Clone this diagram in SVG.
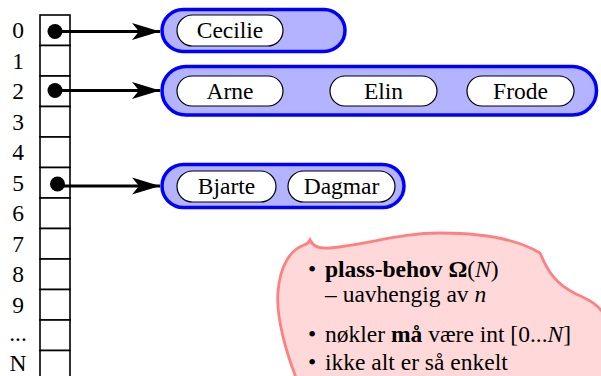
<svg xmlns="http://www.w3.org/2000/svg" width="601" height="376" viewBox="0 0 601 376">
  <style>
    text { font-family: "Liberation Serif", "Times New Roman", serif; font-size: 23.5px; fill: #000; }
    .idx { text-anchor: middle; }
    .cell { fill: #fff; stroke: #000; stroke-width: 1.6; }
    .bucket { fill: #b3b3ff; stroke: #0000ff; stroke-width: 3.5; }
    .key { fill: #fff; stroke: #000; stroke-width: 1.2; }
    .key-label { text-anchor: middle; }
    .link { stroke: #000; stroke-width: 2.8; fill: none; }
    .b { font-weight: bold; }
    .i { font-style: italic; }
  </style>
  <defs>
    <marker id="head" markerUnits="userSpaceOnUse" markerWidth="30" markerHeight="20" viewBox="-29 -10 30 20" refX="0" refY="0" orient="auto">
      <path d="M0,0 L-28,-8.5 L-21,0 L-28,8.5 Z" fill="#000"/>
    </marker>
  </defs>

  <!-- index column -->
  <g id="table">
    <rect class="cell" x="40" y="15" width="30" height="30.5"/>
    <rect class="cell" x="40" y="45.5" width="30" height="30.5"/>
    <rect class="cell" x="40" y="76" width="30" height="30.5"/>
    <rect class="cell" x="40" y="106.5" width="30" height="30.5"/>
    <rect class="cell" x="40" y="137" width="30" height="30.5"/>
    <rect class="cell" x="40" y="167.5" width="30" height="30.5"/>
    <rect class="cell" x="40" y="198" width="30" height="30.5"/>
    <rect class="cell" x="40" y="228.5" width="30" height="30.5"/>
    <rect class="cell" x="40" y="259" width="30" height="30.5"/>
    <rect class="cell" x="40" y="289.5" width="30" height="30.5"/>
    <rect class="cell" x="40" y="320" width="30" height="30.5"/>
    <rect class="cell" x="40" y="350.5" width="30" height="30.5"/>
    <text class="idx" x="18" y="38">0</text>
    <text class="idx" x="18" y="68.5">1</text>
    <text class="idx" x="18" y="99">2</text>
    <text class="idx" x="18" y="129.5">3</text>
    <text class="idx" x="18" y="160">4</text>
    <text class="idx" x="18" y="190.5">5</text>
    <text class="idx" x="18" y="221">6</text>
    <text class="idx" x="18" y="251.5">7</text>
    <text class="idx" x="18" y="282">8</text>
    <text class="idx" x="18" y="312.5">9</text>
    <text class="idx" x="18" y="341">...</text>
    <text class="idx" x="18" y="371">N</text>
  </g>

  <!-- pointers from slots to buckets -->
  <g id="connectors">
    <circle cx="55" cy="31.5" r="7.5" fill="#000"/>
    <line class="link" x1="55" y1="31.5" x2="160" y2="31.5" marker-end="url(#head)"/>
    <circle cx="55" cy="90.5" r="7.5" fill="#000"/>
    <line class="link" x1="55" y1="90.5" x2="160" y2="90.5" marker-end="url(#head)"/>
    <circle cx="57.5" cy="184" r="7.5" fill="#000"/>
    <line class="link" x1="57.5" y1="186" x2="160" y2="186" marker-end="url(#head)"/>
  </g>

  <g id="bucket0">
    <rect class="bucket" x="162" y="9.5" width="183" height="42" rx="21"/>
    <rect class="key" x="177" y="15" width="106" height="31" rx="15.5"/>
    <text class="key-label" x="230" y="38">Cecilie</text>
  </g>

  <g id="bucket2">
    <rect class="bucket" x="162" y="66.5" width="434.5" height="48.5" rx="24"/>
    <rect class="key" x="177" y="76" width="106" height="30" rx="15"/>
    <text class="key-label" x="230" y="99">Arne</text>
    <rect class="key" x="330" y="76" width="107" height="30" rx="15"/>
    <text class="key-label" x="383.5" y="99">Elin</text>
    <rect class="key" x="467" y="76" width="107" height="30" rx="15"/>
    <text class="key-label" x="520.5" y="99">Frode</text>
  </g>

  <g id="bucket5">
    <rect class="bucket" x="162" y="164.5" width="242" height="43" rx="21.5"/>
    <rect class="key" x="177" y="171" width="99" height="31" rx="15.5"/>
    <text class="key-label" x="226.5" y="194">Bjarte</text>
    <rect class="key" x="288" y="171" width="107" height="31" rx="15.5"/>
    <text class="key-label" x="341.5" y="194">Dagmar</text>
  </g>

  <!-- note bubble -->
  <g id="note">
    <path d="M310,240 C313,246 318,249 330,248 C370,244 400,233 440,233 C490,233 522,242 540,253 C548,272 556,284 576,294 C590,300 598,305 604,314 L604,380 L297,380 C285,350 276,315 278,292 C280,266 290,250 304,245 C307,244 309,242 310,240 Z" fill="#ffd9d9" stroke="#ff8080" stroke-width="2.8"/>
    <text x="308" y="277">•</text>
    <text x="325" y="277"><tspan class="b">plass-behov Ω</tspan>(<tspan class="i">N</tspan>)</text>
    <text x="325" y="302">– uavhengig av <tspan class="i">n</tspan></text>
    <text x="308" y="342">•</text>
    <text x="325" y="342">nøkler <tspan class="b">må</tspan> være int [0...<tspan class="i">N</tspan>]</text>
    <text x="308" y="370">•</text>
    <text x="325" y="370">ikke alt er så enkelt</text>
  </g>
</svg>
